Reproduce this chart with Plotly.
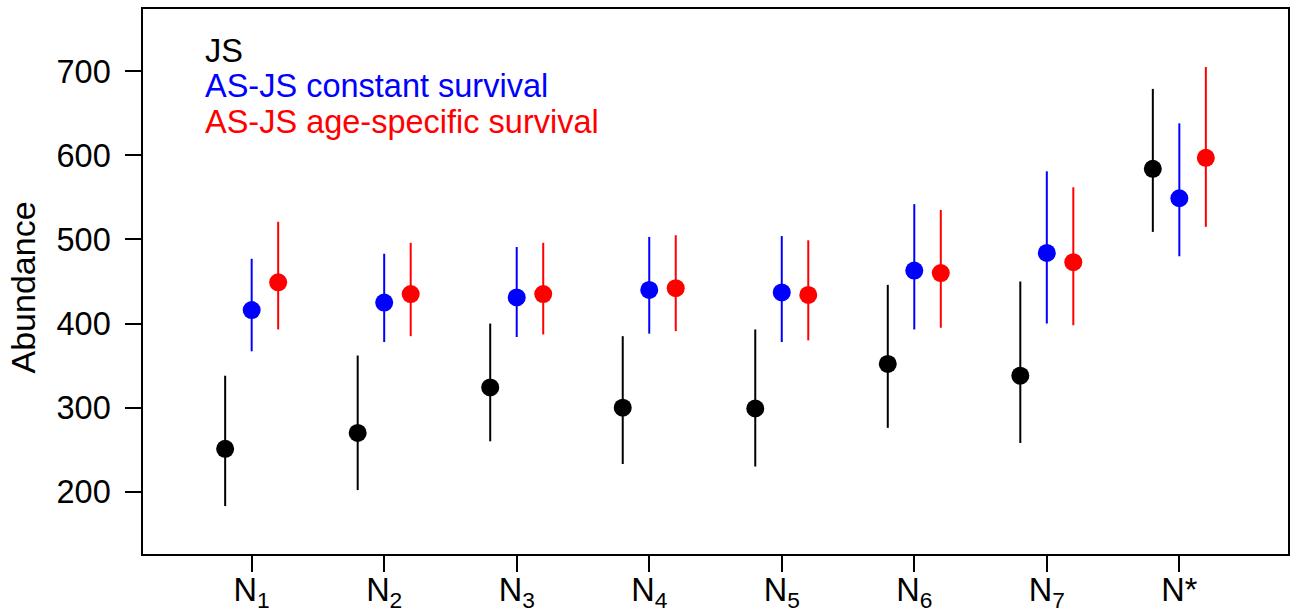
import numpy as np
import plotly.graph_objects as go

categories = ["N<sub>1</sub>", "N<sub>2</sub>", "N<sub>3</sub>", "N<sub>4</sub>",
              "N<sub>5</sub>", "N<sub>6</sub>", "N<sub>7</sub>", "N*"]

js_mean = [251, 270, 324, 300, 299, 352, 338, 584]
js_lo = [183, 202, 260, 233, 230, 276, 258, 509]
js_hi = [338, 362, 400, 385, 393, 446, 450, 679]

asjs_const_mean = [416, 425, 431, 440, 437, 463, 484, 549]
asjs_const_lo = [367, 378, 384, 388, 378, 393, 400, 480]
asjs_const_hi = [477, 483, 491, 503, 504, 542, 581, 638]

asjs_age_mean = [449, 435, 435, 442, 434, 460, 473, 597]
asjs_age_lo = [393, 385, 387, 391, 380, 395, 398, 515]
asjs_age_hi = [521, 496, 496, 505, 499, 535, 562, 705]

series_names = ["JS", "AS-JS constant survival", "AS-JS age-specific survival"]
y_ticks = [200, 300, 400, 500, 600, 700]

FONT = "Arial, Liberation Sans, sans-serif"
FS = 32.5

series = [
    (js_mean, js_lo, js_hi, "#000000", -0.2),
    (asjs_const_mean, asjs_const_lo, asjs_const_hi, "#0000FF", 0.0),
    (asjs_age_mean, asjs_age_lo, asjs_age_hi, "#FF0000", 0.2),
]

pos = np.arange(1, len(categories) + 1)

fig = go.Figure()
for (m, lo, hi, col, off), name in zip(series, series_names):
    m = np.array(m, float)
    fig.add_trace(go.Scatter(
        x=pos + off, y=m, mode="markers", name=name,
        marker=dict(color=col, size=18),
        error_y=dict(type="data", symmetric=False,
                     array=np.array(hi) - m, arrayminus=m - np.array(lo),
                     color=col, thickness=2, width=0),
        showlegend=False,
    ))

# text legend
leg_y = [724, 682, 640]
for name, (_, _, _, col, _), yy in zip(series_names, series, leg_y):
    fig.add_annotation(x=0.0524, xref="paper", y=yy, yref="y",
                       text=name, showarrow=False, xanchor="left", yanchor="middle",
                       font=dict(family=FONT, size=FS, color=col))

fig.add_annotation(x=-0.1048, xref="paper", y=0.489, yref="paper",
                   text="Abundance", textangle=-90, showarrow=False,
                   xanchor="center", yanchor="middle",
                   font=dict(family=FONT, size=34, color="black"))

fig.update_layout(
    width=1293, height=615,
    margin=dict(l=143, r=5, t=9, b=61, autoexpand=False),
    paper_bgcolor="white", plot_bgcolor="white",
    font=dict(family=FONT, size=FS, color="black"),
    xaxis=dict(range=[0.18, 8.82], tickvals=list(pos), ticktext=categories,
               ticks="outside", ticklen=16, tickwidth=1.5, tickcolor="black",
               showline=True, linecolor="black", linewidth=1.5, mirror=True,
               showgrid=False, zeroline=False, automargin=False,
               ticklabelstandoff=-10,
               tickfont=dict(family=FONT, size=FS, color="black")),
    yaxis=dict(range=[126, 774], tickvals=y_ticks,
               ticks="outside", ticklen=16, tickwidth=1.5, tickcolor="black",
               showline=True, linecolor="black", linewidth=1.5, mirror=True,
               showgrid=False, zeroline=False, automargin=False,
               ticklabelstandoff=8,
               tickfont=dict(family=FONT, size=FS, color="black")),
)

fig.write_html("out.html")
